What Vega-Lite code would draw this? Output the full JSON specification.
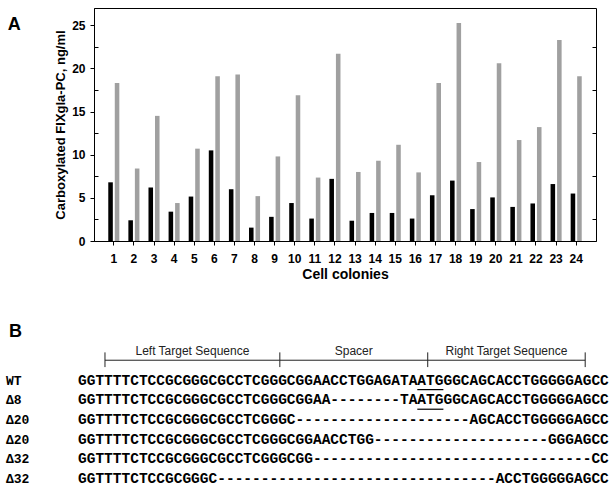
{
  "$schema": "https://vega.github.io/schema/vega-lite/v6.json",
  "padding": {"left": 5, "top": 7, "right": 0, "bottom": 0},
  "background": "white",
  "config": {"view": {"stroke": null}, "font": "Liberation Sans"},
  "spacing": 40,
  "datasets": {
    "bars": [
      {"cell": 1, "series": "Series 1", "value": 6.8}, {"cell": 1, "series": "Series 2", "value": 18.3},
      {"cell": 2, "series": "Series 1", "value": 2.4}, {"cell": 2, "series": "Series 2", "value": 8.4},
      {"cell": 3, "series": "Series 1", "value": 6.2}, {"cell": 3, "series": "Series 2", "value": 14.5},
      {"cell": 4, "series": "Series 1", "value": 3.4}, {"cell": 4, "series": "Series 2", "value": 4.4},
      {"cell": 5, "series": "Series 1", "value": 5.15}, {"cell": 5, "series": "Series 2", "value": 10.7},
      {"cell": 6, "series": "Series 1", "value": 10.5}, {"cell": 6, "series": "Series 2", "value": 19.1},
      {"cell": 7, "series": "Series 1", "value": 6.0}, {"cell": 7, "series": "Series 2", "value": 19.3},
      {"cell": 8, "series": "Series 1", "value": 1.55}, {"cell": 8, "series": "Series 2", "value": 5.2},
      {"cell": 9, "series": "Series 1", "value": 2.8}, {"cell": 9, "series": "Series 2", "value": 9.8},
      {"cell": 10, "series": "Series 1", "value": 4.4}, {"cell": 10, "series": "Series 2", "value": 16.9},
      {"cell": 11, "series": "Series 1", "value": 2.6}, {"cell": 11, "series": "Series 2", "value": 7.35},
      {"cell": 12, "series": "Series 1", "value": 7.2}, {"cell": 12, "series": "Series 2", "value": 21.7},
      {"cell": 13, "series": "Series 1", "value": 2.35}, {"cell": 13, "series": "Series 2", "value": 8.0},
      {"cell": 14, "series": "Series 1", "value": 3.25}, {"cell": 14, "series": "Series 2", "value": 9.3},
      {"cell": 15, "series": "Series 1", "value": 3.25}, {"cell": 15, "series": "Series 2", "value": 11.15},
      {"cell": 16, "series": "Series 1", "value": 2.6}, {"cell": 16, "series": "Series 2", "value": 7.95},
      {"cell": 17, "series": "Series 1", "value": 5.3}, {"cell": 17, "series": "Series 2", "value": 18.3},
      {"cell": 18, "series": "Series 1", "value": 7.0}, {"cell": 18, "series": "Series 2", "value": 25.25},
      {"cell": 19, "series": "Series 1", "value": 3.7}, {"cell": 19, "series": "Series 2", "value": 9.15},
      {"cell": 20, "series": "Series 1", "value": 5.05}, {"cell": 20, "series": "Series 2", "value": 20.6},
      {"cell": 21, "series": "Series 1", "value": 3.95}, {"cell": 21, "series": "Series 2", "value": 11.7},
      {"cell": 22, "series": "Series 1", "value": 4.35}, {"cell": 22, "series": "Series 2", "value": 13.2},
      {"cell": 23, "series": "Series 1", "value": 6.6}, {"cell": 23, "series": "Series 2", "value": 23.3},
      {"cell": 24, "series": "Series 1", "value": 5.5}, {"cell": 24, "series": "Series 2", "value": 19.1}
    ],
    "seqs": [
      {"row": 1, "label": "WT", "seq": "GGTTTTCTCCGCGGGCGCCTCGGGCGGAACCTGGAGATAATGGGCAGCACCTGGGGGAGCC"},
      {"row": 2, "label": "Δ8", "seq": "GGTTTTCTCCGCGGGCGCCTCGGGCGGAA--------TAATGGGCAGCACCTGGGGGAGCC"},
      {"row": 3, "label": "Δ20", "seq": "GGTTTTCTCCGCGGGCGCCTCGGGC--------------------AGCACCTGGGGGAGCC"},
      {"row": 4, "label": "Δ20", "seq": "GGTTTTCTCCGCGGGCGCCTCGGGCGGAACCTGG--------------------GGGAGCC"},
      {"row": 5, "label": "Δ32", "seq": "GGTTTTCTCCGCGGGCGCCTCGGGCGG--------------------------------CC"},
      {"row": 6, "label": "Δ32", "seq": "GGTTTTCTCCGCGGGC--------------------------------ACCTGGGGGAGCC"}
    ],
    "panelLabel": [{"text": "B", "col": -7.93, "row": -1.47}],
    "regions": [
      {"name": "Left Target Sequence", "from": 3.1, "to": 23.2, "mid": 13.15},
      {"name": "Spacer", "from": 23.2, "to": 40.2, "mid": 31.7},
      {"name": "Right Target Sequence", "from": 40.2, "to": 58.3, "mid": 49.25}
    ],
    "bracketTicks": [{"col": 3.1}, {"col": 23.2}, {"col": 40.2}, {"col": 58.3}],
    "underlines": [
      {"uy": 1.45, "from": 39, "to": 42},
      {"uy": 2.45, "from": 39, "to": 42}
    ]
  },
  "vconcat": [
    {
      "width": 502,
      "height": 233,
      "view": {"stroke": "black", "strokeWidth": 1},
      "title": {"text": "A", "orient": "left", "anchor": "end", "angle": 0, "align": "left", "baseline": "top", "fontSize": 18, "fontWeight": "bold", "font": "Liberation Sans", "color": "black", "offset": 34, "dy": 8},
      "data": {"name": "bars"},
      "layer": [
        {
          "mark": {"type": "bar"},
          "encoding": {
            "x": {
              "field": "cell", "type": "ordinal",
              "scale": {"paddingInner": 0.45, "paddingOuter": 0.71},
              "axis": {"title": "Cell colonies", "labelAngle": 0, "labelFont": "Liberation Sans", "labelFontSize": 12, "labelFontWeight": "bold", "labelColor": "black", "tickColor": "black", "tickSize": 4, "labelPadding": 8, "domainColor": "black", "titleFont": "Liberation Sans", "titleFontSize": 14, "titleFontWeight": "bold", "titleColor": "black", "titlePadding": 3}
            },
            "xOffset": {"field": "series", "scale": {"paddingInner": 0.3}},
            "y": {
              "field": "value", "type": "quantitative",
              "scale": {"domain": [0, 27], "nice": false},
              "axis": {"title": "Carboxylated FIXgla-PC, ng/ml", "values": [0, 2.5, 5, 7.5, 10, 12.5, 15, 17.5, 20, 22.5, 25], "labelExpr": "datum.value % 5 === 0 ? datum.label : ''", "tickSize": {"condition": {"test": "datum.value % 5 === 0", "value": 4}, "value": -4}, "grid": false, "labelFont": "Liberation Sans", "labelFontSize": 12, "labelFontWeight": "bold", "labelColor": "black", "labelPadding": 5, "tickColor": "black", "domainColor": "black", "titleFont": "Liberation Sans", "titleFontSize": 13, "titleFontWeight": "bold", "titleColor": "black", "titlePadding": 4}
            },
            "color": {"field": "series", "type": "nominal", "scale": {"range": ["#000000", "#a0a0a0"]}, "legend": null}
          }
        },
        {
          "mark": {"type": "bar", "opacity": 0},
          "encoding": {
            "x": {"field": "cell", "type": "ordinal"},
            "xOffset": {"field": "series"},
            "y": {
              "field": "value", "type": "quantitative",
              "axis": {"orient": "right", "title": null, "values": [2.5, 7.5, 12.5, 17.5, 22.5], "labels": false, "tickSize": -4, "tickColor": "black", "domain": false, "grid": false}
            }
          }
        }
      ],
      "resolve": {"axis": {"y": "independent"}}
    },
    {
      "width": 516.6,
      "height": 166.6,
      "view": {"stroke": null},
      "layer": [
        {
          "data": {"name": "seqs"},
          "mark": {"type": "text", "align": "left", "baseline": "middle", "font": "Liberation Mono", "fontSize": 14.5, "fontWeight": "bold", "color": "black"},
          "encoding": {
            "x": {"datum": 0, "type": "quantitative", "scale": {"domain": [1.839, 61.22], "nice": false, "zero": false}, "axis": null},
            "y": {"field": "row", "type": "quantitative", "scale": {"domain": [-2.0, 6.5], "nice": false, "zero": false, "reverse": true}, "axis": null},
            "text": {"field": "seq"}
          }
        },
        {
          "data": {"name": "seqs"},
          "mark": {"type": "text", "align": "left", "baseline": "middle", "font": "Liberation Mono", "fontSize": 13, "fontWeight": "bold", "color": "black"},
          "encoding": {
            "x": {"datum": -8.28, "type": "quantitative"},
            "y": {"field": "row", "type": "quantitative"},
            "text": {"field": "label"}
          }
        },
        {
          "data": {"name": "panelLabel"},
          "mark": {"type": "text", "align": "left", "baseline": "middle", "font": "Liberation Sans", "fontSize": 18, "fontWeight": "bold", "color": "black"},
          "encoding": {
            "x": {"field": "col", "type": "quantitative"},
            "y": {"field": "row", "type": "quantitative"},
            "text": {"field": "text"}
          }
        },
        {
          "data": {"name": "regions"},
          "mark": {"type": "text", "align": "center", "baseline": "middle", "font": "Liberation Sans", "fontSize": 12, "color": "#222222"},
          "encoding": {
            "x": {"field": "mid", "type": "quantitative"},
            "y": {"datum": -0.5, "type": "quantitative"},
            "text": {"field": "name"}
          }
        },
        {
          "data": {"name": "regions"},
          "mark": {"type": "rule", "color": "#222222", "strokeWidth": 1},
          "encoding": {
            "x": {"field": "from", "type": "quantitative"},
            "x2": {"field": "to"},
            "y": {"datum": -0.05, "type": "quantitative"}
          }
        },
        {
          "data": {"name": "bracketTicks"},
          "mark": {"type": "rule", "color": "#222222", "strokeWidth": 1},
          "encoding": {
            "x": {"field": "col", "type": "quantitative"},
            "y": {"datum": -0.45, "type": "quantitative"},
            "y2": {"datum": 0.3}
          }
        },
        {
          "data": {"name": "underlines"},
          "mark": {"type": "rule", "color": "black", "strokeWidth": 1.2},
          "encoding": {
            "x": {"field": "from", "type": "quantitative"},
            "x2": {"field": "to"},
            "y": {"field": "uy", "type": "quantitative"}
          }
        }
      ]
    }
  ]
}
